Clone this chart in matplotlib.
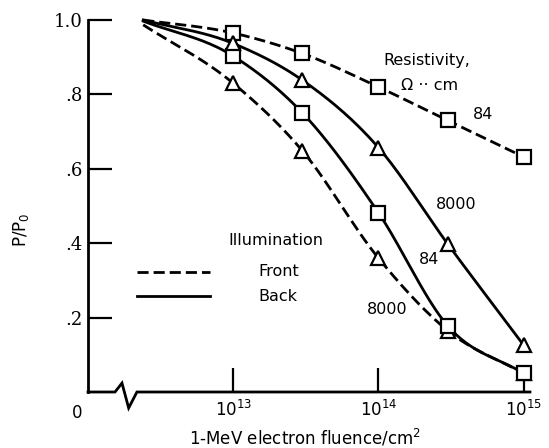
import numpy as np
import matplotlib
matplotlib.use("Agg")
from matplotlib import pyplot as plt

# fluence points (1-MeV electrons / cm^2)
fluence = [1e13, 3e13, 1e14, 3e14, 1e15]
# curve start (no marker)
start_fluence = 2.4e12
front_84 = [0.965, 0.91, 0.82, 0.73, 0.632]
front_8000 = [0.83, 0.648, 0.36, 0.165, 0.05]
back_84 = [0.903, 0.75, 0.482, 0.178, 0.05]
back_8000 = [0.937, 0.838, 0.657, 0.398, 0.126]
start_vals = {"front_84": 1.0, "front_8000": 0.987, "back_84": 0.997, "back_8000": 1.0}

W, H = 549, 448
x0, x1, y0, y1 = 88, 530, 392, 20


def smooth(xs, ys, n=40):
	# cubic hermite through the points in log-x space, three-point tangents
	x = np.log10(xs)
	y = np.asarray(ys, float)
	h = np.diff(x)
	d = np.diff(y) / h
	m = np.zeros_like(y)
	for k in range(1, len(y) - 1):
		m[k] = (h[k] * d[k - 1] + h[k - 1] * d[k]) / (h[k - 1] + h[k])
	m[0] = d[0]
	m[-1] = d[-1]
	ox, oy = [], []
	for k in range(len(h)):
		t = np.linspace(0, 1, n)
		h00 = 2 * t**3 - 3 * t**2 + 1
		h10 = t**3 - 2 * t**2 + t
		h01 = -2 * t**3 + 3 * t**2
		h11 = t**3 - t**2
		ox.append(x[k] + t * h[k])
		oy.append(h00 * y[k] + h10 * h[k] * m[k] + h01 * y[k + 1] + h11 * h[k] * m[k + 1])
	return 10 ** np.concatenate(ox), np.concatenate(oy)


fig = plt.figure(figsize=(W / 100, H / 100), dpi=100)
ax = fig.add_axes([x0 / W, (H - y0) / H, (x1 - x0) / W, (y0 - y1) / H])
ax.set_xscale("log")
ax.set_xlim(1e12, 10 ** 15.044)
ax.set_ylim(0, 1.0)

dash = (0, (4, 1.8))
series = [
	(front_84, "front_84", dash, "s"),
	(front_8000, "front_8000", dash, "^"),
	(back_84, "back_84", "-", "s"),
	(back_8000, "back_8000", "-", "^"),
]
for vals, key, ls, mk in series:
	xs = [start_fluence] + fluence
	ys = [start_vals[key]] + vals
	sx, sy = smooth(xs, ys)
	ax.plot(sx, sy, color="black", lw=2, linestyle=ls, zorder=2, clip_on=False)
	ax.plot(fluence, vals, linestyle="none", marker=mk, markersize=9.5 if mk == "s" else 10.5,
		markerfacecolor="white", markeredgecolor="black", markeredgewidth=1.6, zorder=3, clip_on=False)

# axes styling
for s in ["top", "right", "bottom"]:
	ax.spines[s].set_visible(False)
ax.spines["left"].set_linewidth(2)

# baseline with axis break
bx = 10 ** np.array([12.0, 12.186, 12.234, 12.28, 12.337, 15.044])
by = [0, 0, 0.024, -0.043, 0, 0]
ax.plot(bx, by, color="black", lw=2, clip_on=False, solid_joinstyle="miter")

ax.set_yticks([0.2, 0.4, 0.6, 0.8, 1.0])
ax.set_yticklabels([".2", ".4", ".6", ".8", "1.0"], family="DejaVu Serif", fontsize=13)
ax.set_xticks([1e13, 1e14, 1e15])
ax.set_xticklabels(["$10^{13}$", "$10^{14}$", "$10^{15}$"], fontsize=12)
ax.minorticks_off()
ax.tick_params(axis="both", direction="in", length=17, width=1.6)
ax.tick_params(axis="x", pad=6)
ax.tick_params(axis="y", pad=4)

ax.text(-0.025, -0.056, "0", transform=ax.transAxes, ha="center", va="center", fontsize=12)

ax.set_ylabel("P/P$_0$", fontsize=12)
ax.yaxis.set_label_coords(-0.13, 0.435)
ax.set_xlabel("1-MeV electron fluence/cm$^2$", fontsize=12)
ax.xaxis.set_label_coords(0.491, -0.095)

fs = 11.5
ax.text(2.16e14, 0.89, "Resistivity,", fontsize=fs, ha="center", va="center")
ax.text(2.26e14, 0.825, "\u03a9 \u00b7\u00b7 cm", fontsize=fs, ha="center", va="center")
ax.text(5.25e14, 0.745, "84", fontsize=fs, ha="center", va="center")
ax.text(3.42e14, 0.505, "8000", fontsize=fs, ha="center", va="center")
ax.text(2.24e14, 0.355, "84", fontsize=fs, ha="center", va="center")
ax.text(1.15e14, 0.223, "8000", fontsize=fs, ha="center", va="center")
ax.text(9.2e12, 0.407, "Illumination", fontsize=fs, ha="left", va="center")
ax.text(1.48e13, 0.323, "Front", fontsize=fs, ha="left", va="center")
ax.text(1.48e13, 0.258, "Back", fontsize=fs, ha="left", va="center")

ax.plot([10 ** 12.34, 10 ** 12.84], [0.323, 0.323], color="black", lw=2, linestyle=dash, clip_on=False)
ax.plot([10 ** 12.34, 10 ** 12.84], [0.258, 0.258], color="black", lw=2, clip_on=False)

fig.savefig("out.png", dpi=100)
